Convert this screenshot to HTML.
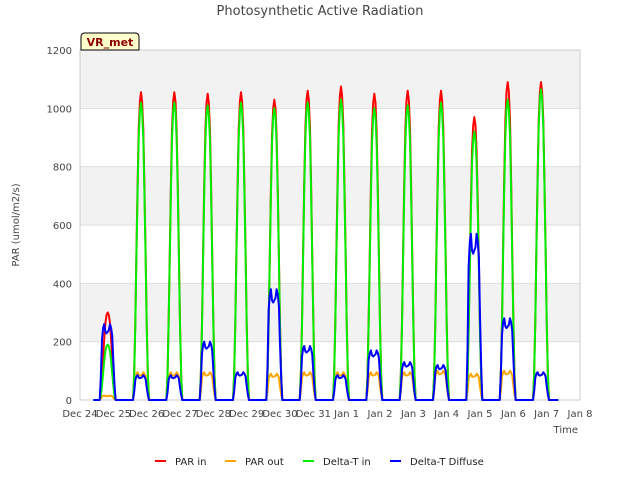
<!DOCTYPE html>
<html><head><meta charset="utf-8"><style>
body{margin:0;background:#fff;font-family:"Liberation Sans","DejaVu Sans",sans-serif}
</style></head><body>
<svg width="640" height="480" viewBox="0 0 640 480" style="font-family:'DejaVu Sans','Liberation Sans',sans-serif">
<rect x="0" y="0" width="640" height="480" fill="#fff"/>
<g id="bands"></g>
<g id="grid"></g>
<rect x="80" y="50" width="500" height="350" fill="none" stroke="#ccc"/>
<g id="series"></g>
<g id="axes" font-size="10" fill="#444"></g>
<text x="320" y="15" text-anchor="middle" font-size="13" fill="#444">Photosynthetic Active Radiation</text>
<text x="19" y="225" text-anchor="middle" font-size="10" fill="#444" transform="rotate(-90 19 225)">PAR (umol/m2/s)</text>
<text x="578" y="433" text-anchor="end" font-size="10" fill="#444">Time</text>
<g>
<path d="M81,50 L81,37 Q81,33 85,33 L135,33 Q139,33 139,37 L139,50 Z" fill="#ffffcc" stroke="#000" stroke-width="1"/>
<text x="110" y="46" text-anchor="middle" font-size="11" font-weight="bold" fill="#8b0000">VR_met</text>
</g>
<g id="legend" font-size="10" fill="#222"></g>
</svg>
<script>
const dayLabels=["Dec 24","Dec 25","Dec 26","Dec 27","Dec 28","Dec 29","Dec 30","Dec 31","Jan 1","Jan 2","Jan 3","Jan 4","Jan 5","Jan 6","Jan 7","Jan 8"];
const yTicks=[0,200,400,600,800,1000,1200];
const parIn=[300,1055,1055,1050,1055,1030,1060,1075,1050,1060,1060,970,1090,1090];
const parOut=[15,95,95,95,95,90,95,95,95,95,100,90,100,95];
const dtIn=[190,1020,1020,1010,1020,1000,1020,1030,1000,1010,1020,920,1030,1065];
const dtDiff=[260,85,85,200,95,380,185,85,170,130,120,570,280,95];
const bellProfile=[0,0.08,0.25,0.48,0.7,0.88,0.97,1,0.97,0.88,0.7,0.48,0.25,0.08,0];
const flatProfile=[0,0.3,0.8,0.95,1,0.9,0.88,0.9,0.92,1,0.95,0.85,0.5,0.2,0];
const ns="http://www.w3.org/2000/svg";
const X0=80,X1=580,Y0=400,Y1=50;
const xs=t=>X0+(X1-X0)*t/15;
const ys=v=>Y0-(Y0-Y1)*v/1200;
function el(tag,attrs,parent){const e=document.createElementNS(ns,tag);for(const k in attrs)e.setAttribute(k,attrs[k]);parent.appendChild(e);return e;}
const bands=document.getElementById('bands'),grid=document.getElementById('grid'),axes=document.getElementById('axes');
for(let i=0;i<yTicks.length-1;i++){ if(i%2==1){const r=el('rect',{x:X0,y:ys(yTicks[i+1]),width:X1-X0,height:ys(yTicks[i])-ys(yTicks[i+1]),fill:'#f2f2f2'},bands);

}}
yTicks.forEach(v=>{const l=el('line',{x1:X0,x2:X1,y1:ys(v),y2:ys(v),stroke:'#ddd'},grid);


const t=el('text',{x:X0-8,y:ys(v)+4,'text-anchor':'end'},axes);t.textContent=v;

});
dayLabels.forEach((d,i)=>{const t=el('text',{x:xs(i),y:417,'text-anchor':'middle'},axes);t.textContent=d;

});
const series=document.getElementById('series');
function draw(peaks,prof,color,name){
  let pts=[[xs(0.4),ys(0)]];
  const n=prof.length;
  peaks.forEach((p,d)=>{const c=d+0.83;for(let k=0;k<n;k++){const t=c-0.24+0.48*k/(n-1);pts.push([xs(t),ys(p*prof[k])]);}});
  pts.push([xs(14.35),ys(0)]);
  const path=el('polyline',{points:pts.map(p=>p[0].toFixed(1)+','+p[1].toFixed(1)).join(' '),fill:'none',stroke:color,'stroke-width':2,'stroke-linejoin':'round'},series);
  
  
}
draw(parIn,bellProfile,'#ff0000','par-in-line');
draw(parOut,flatProfile,'#ffa500','par-out-line');
draw(dtIn,bellProfile,'#00ee00','delta-t-in-line');
draw(dtDiff,flatProfile,'#0000ff','delta-t-diffuse-line');
const legend=document.getElementById('legend');
[["PAR in","#ff0000",155],["PAR out","#ffa500",225],["Delta-T in","#00ee00",303],["Delta-T Diffuse","#0000ff",390]].forEach(([n,c,x])=>{
  const g=el('g',{},legend);
  
  
  el('line',{x1:x,x2:x+11,y1:461,y2:461,stroke:c,'stroke-width':2},g);
  const t=el('text',{x:x+20,y:465},g);t.textContent=n;
});
</script>
</body></html>
